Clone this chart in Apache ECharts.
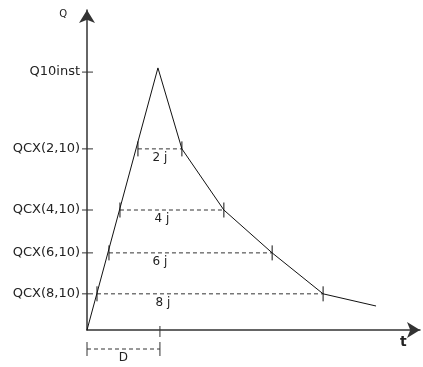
<!DOCTYPE html>
<html>
<head>
<meta charset="utf-8">
<script src="https://cdn.jsdelivr.net/npm/echarts@6/dist/echarts.min.js"></script>
<style>
html,body{margin:0;padding:0;background:#fff;}
#c{width:423px;height:367px;}
</style>
</head>
<body>
<div id="c"></div>
<script>
// Y-axis tick values (Q) and their labels
const tickValues = [8.06, 5.66, 3.75, 2.41, 1.13];
const tickLabels = ['Q10inst', 'QCX(2,10)', 'QCX(4,10)', 'QCX(6,10)', 'QCX(8,10)'];
// Hydrograph (t, Q)
const hydroT = [0, 2.13, 2.85, 4.11, 5.56, 7.09, 8.68];
const hydroQ = [0, 8.19, 5.66, 3.75, 2.41, 1.13, 0.75];
// Duration levels
const levelQ = [5.66, 3.75, 2.41, 1.13];
const levelStart = [1.53, 0.99, 0.66, 0.30];
const levelEnd = [2.85, 4.11, 5.56, 7.09];
const levelLabels = ['2 j', '4 j', '6 j', '8 j'];
const levelLabelT = [2.19, 2.25, 2.19, 2.28];
// Rise duration D
const durationD = 2.19;

const FONT = 'DejaVu Sans';
const chart = echarts.init(document.getElementById('c'));

const hydroData = hydroT.map((t, i) => [t, hydroQ[i]]);
const levelData = levelQ.map((q, i) => [levelStart[i], levelEnd[i], q, levelLabelT[i]]);

chart.setOption({
  animation: false,
  grid: { left: 87, right: 3, top: 10, bottom: 37 },
  graphic: [
    { type: 'text', left: 400, top: 335, style: { text: 't', font: 'bold 14px ' + FONT, fill: '#222' } }
  ],
  xAxis: {
    type: 'value', min: 0, max: 10,
    axisLine: { show: true, symbol: ['none', 'arrow'], symbolSize: [12, 13], lineStyle: { color: '#333', width: 1.5 } },
    axisTick: { show: false }, axisLabel: { show: false }, splitLine: { show: false }
  },
  yAxis: {
    type: 'value', min: 0, max: 10,
    name: 'Q', nameLocation: 'end', nameGap: -4,
    nameTextStyle: { fontFamily: FONT, fontSize: 10, color: '#222', align: 'right', verticalAlign: 'middle', padding: [0, 20, 0, 0] },
    axisLine: { show: true, symbol: ['none', 'arrow'], symbolSize: [12, 13], lineStyle: { color: '#333', width: 1.5 } },
    axisTick: { show: false },
    axisLabel: {
      show: true, customValues: tickValues, margin: 7,
      fontFamily: FONT, fontSize: 13, color: '#222',
      formatter: function (v) { const i = tickValues.indexOf(v); return i >= 0 ? tickLabels[i] : ''; }
    },
    splitLine: { show: false }
  },
  series: [
    {
      type: 'line', data: hydroData, symbol: 'none',
      lineStyle: { color: '#111', width: 1 }, z: 5
    },
    {
      type: 'custom', clip: false, data: levelData, z: 4,
      renderItem: function (params, api) {
        const q = api.value(2);
        const p1 = api.coord([api.value(0), q]);
        const p2 = api.coord([api.value(1), q]);
        const pl = api.coord([api.value(3), q]);
        return { type: 'group', children: [
          { type: 'line', shape: { x1: p1[0], y1: p1[1], x2: p2[0], y2: p2[1] }, style: { stroke: '#333', lineWidth: 1, lineDash: [4, 3] } },
          { type: 'line', shape: { x1: p1[0], y1: p1[1] - 7.5, x2: p1[0], y2: p1[1] + 7.5 }, style: { stroke: '#111', lineWidth: 1 } },
          { type: 'line', shape: { x1: p2[0], y1: p2[1] - 7.5, x2: p2[0], y2: p2[1] + 7.5 }, style: { stroke: '#111', lineWidth: 1 } },
          { type: 'text', x: pl[0], y: pl[1] + 9, style: { text: levelLabels[params.dataIndex], fill: '#222', font: '12px ' + FONT, align: 'center', verticalAlign: 'middle' } }
        ] };
      }
    },
    {
      // crossing ticks on the Q axis
      type: 'custom', clip: false, data: tickValues.map(v => [0, v]), z: 6,
      renderItem: function (params, api) {
        const p = api.coord([0, api.value(1)]);
        return { type: 'line', shape: { x1: p[0] - 5, y1: p[1], x2: p[0] + 6, y2: p[1] }, style: { stroke: '#333', lineWidth: 1 } };
      }
    },
    {
      // D dimension below the t axis
      type: 'custom', clip: false, data: [[durationD]], z: 6,
      renderItem: function (params, api) {
        const p0 = api.coord([0, 0]);
        const pd = api.coord([api.value(0), 0]);
        const y = p0[1] + 19;
        return { type: 'group', children: [
          { type: 'line', shape: { x1: pd[0], y1: pd[1] - 4, x2: pd[0], y2: pd[1] + 7 }, style: { stroke: '#333', lineWidth: 1 } },
          { type: 'line', shape: { x1: p0[0], y1: y, x2: pd[0], y2: y }, style: { stroke: '#333', lineWidth: 1, lineDash: [4, 3] } },
          { type: 'line', shape: { x1: p0[0], y1: y - 7, x2: p0[0], y2: y + 7 }, style: { stroke: '#333', lineWidth: 1 } },
          { type: 'line', shape: { x1: pd[0], y1: y - 7, x2: pd[0], y2: y + 7 }, style: { stroke: '#333', lineWidth: 1 } },
          { type: 'text', x: (p0[0] + pd[0]) / 2, y: y + 9, style: { text: 'D', fill: '#222', font: '12px ' + FONT, align: 'center', verticalAlign: 'middle' } }
        ] };
      }
    }
  ]
});
</script>
</body>
</html>
